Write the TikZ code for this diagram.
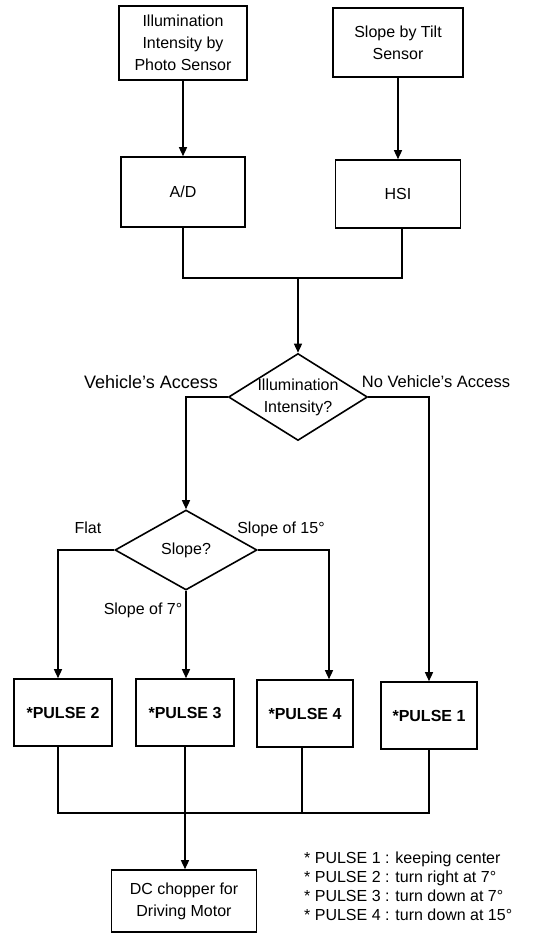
\documentclass[tikz,border=0pt]{standalone}
\usepackage{fontspec}
\setmainfont{Liberation Sans}
\usetikzlibrary{shapes.geometric,arrows.meta}
\tikzset{
  box/.style={draw, line width=1.6pt, inner sep=0pt, align=center, font=\fontsize{16}{22}\selectfont},
  pbox/.style={box, font=\bfseries\fontsize{16}{22}\selectfont, minimum height=67pt},
  dia/.style={draw, diamond, line width=1.6pt, inner sep=0pt},
  lab/.style={font=\fontsize{16}{22}\selectfont, inner sep=0pt},
  conn/.style={line width=1.4pt},
  arr/.style={conn, -{Triangle[length=9pt,width=8pt]}},
}
\begin{document}
\begin{tikzpicture}[x=1pt,y=-1pt]
\useasboundingbox (0,0) rectangle (539,937);
% top boxes
\node[box, minimum width=128pt, minimum height=74pt] (ill) at (183,43) {Illumination\\Intensity by\\Photo Sensor};
\node[box, minimum width=130pt, minimum height=69pt] (tilt) at (398,42.5) {Slope by Tilt\\Sensor};
\node[box, minimum width=124pt, minimum height=70pt] (ad) at (183,192) {A/D};
\node[box, minimum width=125pt, minimum height=68pt] (hsi) at (398,194) {HSI};
\coordinate (m1) at (298,278);
% decisions
\node[dia, minimum width=139pt, minimum height=87pt,
  label={[lab, align=center]center:Illumination\\Intensity?}] (d1) at (298,397) {};
\node[dia, minimum width=142pt, minimum height=80pt,
  label={[lab]center:Slope?}] (d2) at (186,550) {};
% pulse boxes
\node[pbox, minimum width=98pt] (p2) at (63,712.5) {*PULSE 2};
\node[pbox, minimum width=98pt] (p3) at (185,712.5) {*PULSE 3};
\node[pbox, minimum width=96pt] (p4) at (305,713.5) {*PULSE 4};
\node[pbox, minimum width=96pt] (p1) at (429,715.5) {*PULSE 1};
\coordinate (m2) at (185,813);
% DC box
\node[box, minimum width=145pt, minimum height=62pt] (dc) at (184,901) {DC chopper for\\Driving Motor};
% labels
\node[lab, font=\fontsize{18}{22}\selectfont] (lva) at (151,382) {Vehicle's Access};
\node[lab, font=\fontsize{16.5}{22}\selectfont] (lnva) at (436,382) {No Vehicle's Access};
\node[lab] (lflat) at (88,528) {Flat};
\node[lab] (l15) at (281,529) {Slope of 15°};
\node[lab] (l7) at (143,610) {Slope of 7°};
% legend
\node[lab, font=\fontsize{16}{19}\selectfont, align=left, anchor=west] (legend) at (304,886)
  {* PULSE 1 : keeping center\\* PULSE 2 : turn right at 7°\\* PULSE 3 : turn down at 7°\\* PULSE 4 : turn down at 15°};
% connectors
\draw[arr] (ill) -- (ad);
\draw[arr] (tilt) -- (hsi);
\draw[conn] (ad.south) |- (m1);
\draw[conn] ([xshift=4pt]hsi.south) |- (m1);
\draw[arr] (m1) -- (d1.north);
\draw[arr] (d1.west) -| (d2.north);
\draw[arr] (d1.east) -| (p1.north);
\draw[arr] (d2.west) -| ([xshift=-5pt]p2.north);
\draw[arr] (d2.south) -- (d2.south |- p3.north);
\draw[arr] (d2.east) -| ([xshift=24pt]p4.north);
\draw[conn] ([xshift=-5pt]p2.south) |- (m2);
\draw[conn] (p3.south) -- (m2);
\draw[conn] ([xshift=-3pt]p4.south) |- (m2);
\draw[conn] (p1.south) |- (m2);
\draw[arr] (m2) -- (m2 |- dc.north);
\end{tikzpicture}
\end{document}
